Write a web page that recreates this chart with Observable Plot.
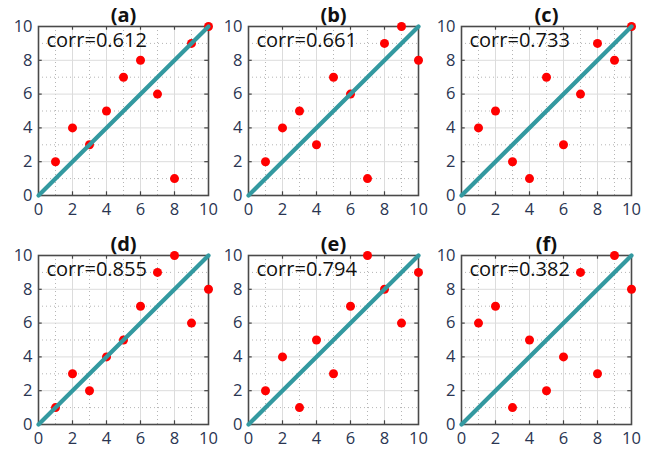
<!DOCTYPE html>
<html>
<head>
<meta charset="utf-8">
<script src="https://cdn.jsdelivr.net/npm/d3@7"></script>
<script src="https://cdn.jsdelivr.net/npm/@observablehq/plot@0.6"></script>
<style>
  html, body { margin: 0; padding: 0; background: #fff; }
  #root { position: relative; width: 650px; height: 454px; overflow: hidden; }
  #root > div { position: absolute; }
</style>
</head>
<body>
<div id="root"></div>
<script>
const xs = [1, 2, 3, 4, 5, 6, 7, 8, 9, 10];
const panelLabels = ["(a)", "(b)", "(c)", "(d)", "(e)", "(f)"];
const corrLabels = ["corr=0.612", "corr=0.661", "corr=0.733", "corr=0.855", "corr=0.794", "corr=0.382"];
const ysA = [2, 4, 3, 5, 7, 8, 6, 1, 9, 10];
const ysB = [2, 4, 5, 3, 7, 6, 1, 9, 10, 8];
const ysC = [4, 5, 2, 1, 7, 3, 6, 9, 8, 10];
const ysD = [1, 3, 2, 4, 5, 7, 9, 10, 6, 8];
const ysE = [2, 4, 1, 5, 3, 7, 10, 8, 6, 9];
const ysF = [6, 7, 1, 5, 2, 4, 9, 3, 10, 8];
const seriesY = [ysA, ysB, ysC, ysD, ysE, ysF];
const diagonal = [0, 10];
const majorTicks = [0, 2, 4, 6, 8, 10];
const innerMajor = [2, 4, 6, 8];
const minorTicks = [1, 3, 5, 7, 9];

const lefts = [0, 210, 423];
const tops = [0, 229];
const root = document.getElementById("root");
const labelColor = "#2a3552";
const tickLen = 0.22;

seriesY.forEach((ys, i) => {
  const pts = xs.map((x, j) => ({x, y: ys[j]}));
  const chart = Plot.plot({
    width: 215,
    height: 227,
    marginLeft: 38,
    marginRight: 7,
    marginTop: 26,
    marginBottom: 32,
    style: {fontFamily: "'Open Sans', sans-serif", background: "transparent", overflow: "visible"},
    x: {type: "linear", domain: [0, 10], axis: null},
    y: {type: "linear", domain: [0, 10], axis: null},
    marks: [
      Plot.ruleX(minorTicks, {x: d => d, stroke: "#b5b5b5", strokeDasharray: "1,3"}),
      Plot.ruleY(minorTicks, {y: d => d, stroke: "#b5b5b5", strokeDasharray: "1,3"}),
      Plot.ruleX(innerMajor, {x: d => d, stroke: "#dcdcdc"}),
      Plot.ruleY(innerMajor, {y: d => d, stroke: "#dcdcdc"}),
      Plot.axisX(majorTicks, {anchor: "bottom", tickSize: 0, tickPadding: 8, fontSize: 16.5, fill: labelColor, label: null}),
      Plot.axisY(majorTicks, {anchor: "left", tickSize: 0, tickPadding: 6, fontSize: 16.5, fill: labelColor, label: null}),
      Plot.ruleX(innerMajor, {x: d => d, y1: 0, y2: tickLen, stroke: "#444", strokeWidth: 1.2}),
      Plot.ruleX(innerMajor, {x: d => d, y1: 10 - tickLen, y2: 10, stroke: "#444", strokeWidth: 1.2}),
      Plot.ruleY(innerMajor, {y: d => d, x1: 0, x2: tickLen, stroke: "#444", strokeWidth: 1.2}),
      Plot.ruleY(innerMajor, {y: d => d, x1: 10 - tickLen, x2: 10, stroke: "#444", strokeWidth: 1.2}),
      Plot.frame({stroke: "#4a4a4a", strokeWidth: 1.6}),
      Plot.dot(pts, {x: "x", y: "y", r: 4.5, fill: "#ff0000", stroke: "none"}),
      Plot.line(diagonal, {x: d => d, y: d => d, stroke: "#3399a0", strokeWidth: 4.2}),
      Plot.text([corrLabels[i]], {text: d => d, frameAnchor: "top-left", lineAnchor: "middle", dx: 8, dy: 14, fontSize: 20, fill: "#111", textAnchor: "start"}),
      Plot.text([panelLabels[i]], {text: d => d, frameAnchor: "top", lineAnchor: "middle", dy: -11, fontSize: 20, fontWeight: "bold", fill: "#111"})
    ]
  });
  const wrap = document.createElement("div");
  wrap.style.left = lefts[i % 3] + "px";
  wrap.style.top = tops[Math.floor(i / 3)] + "px";
  wrap.appendChild(chart);
  root.appendChild(wrap);
});
</script>
</body>
</html>
